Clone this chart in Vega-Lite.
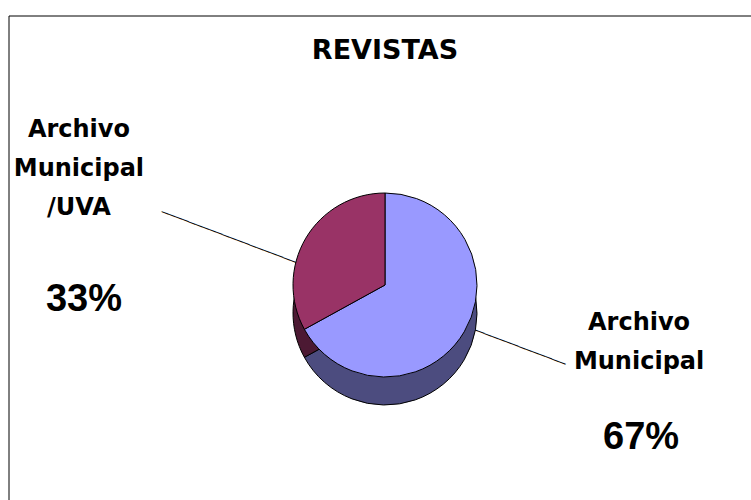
{
  "$schema": "https://vega.github.io/schema/vega-lite/v6.json",
  "width": 753,
  "height": 567,
  "autosize": {"type": "none"},
  "padding": {"left": 8.5, "top": 15.5, "right": -10.5, "bottom": -82.5},
  "background": "white",
  "view": {"stroke": "black", "strokeWidth": 1, "fill": "white"},
  "title": {
    "text": "REVISTAS",
    "font": "DejaVu Sans",
    "fontSize": 27,
    "fontWeight": "bold",
    "color": "black",
    "baseline": "alphabetic",
    "offset": -70.5,
    "anchor": "middle"
  },
  "data": {
    "values": [
      {"categoria": "Archivo Municipal", "etiqueta": "Archivo\nMunicipal", "valor": 67, "porcentaje": "67%"},
      {"categoria": "Archivo Municipal/UVA", "etiqueta": "Archivo\nMunicipal\n/UVA", "valor": 33, "porcentaje": "33%"}
    ]
  },
  "encoding": {
    "theta": {"field": "valor", "type": "quantitative", "stack": true},
    "order": {"field": "valor", "type": "quantitative", "sort": "descending"}
  },
  "layer": [
    {
      "mark": {"type": "text", "text": "─────────────────────", "radius": 140, "thetaOffset": -0.1728, "angle": 20.7, "dx": -24, "dy": -2.7, "font": "DejaVu Sans Mono", "fontSize": 12, "align": "center", "baseline": "middle", "color": "black"}
    },
    {
      "mark": {"type": "arc", "radius": 92, "yOffset": 14, "stroke": "black", "strokeWidth": 1},
      "encoding": {
        "color": {"field": "categoria", "type": "nominal", "scale": {"domain": ["Archivo Municipal", "Archivo Municipal/UVA"], "range": ["#4C4C7F", "#4C1933"]}, "legend": null}
      }
    },
    {
      "mark": {"type": "arc", "radius": 92, "yOffset": -14, "stroke": "black", "strokeWidth": 1},
      "encoding": {
        "fill": {"field": "categoria", "type": "nominal", "scale": {"domain": ["Archivo Municipal", "Archivo Municipal/UVA"], "range": ["#9999FF", "#993366"]}, "legend": null}
      }
    },
    {
      "mark": {"type": "text", "radius": 296.2, "thetaOffset": -0.2025, "dx": -26, "dy": -72.5, "font": "DejaVu Sans", "fontWeight": "bold", "fontSize": 24, "lineBreak": "\n", "lineHeight": 39, "align": "center", "baseline": "middle", "color": "black"},
      "encoding": {"text": {"field": "etiqueta"}}
    },
    {
      "mark": {"type": "text", "radius": 286.9, "thetaOffset": -0.292, "dx": -22.5, "dy": 69.75, "font": "Liberation Sans", "fontWeight": "bold", "fontSize": 38, "align": "center", "baseline": "middle", "color": "black"},
      "encoding": {"text": {"field": "porcentaje"}}
    }
  ]
}
